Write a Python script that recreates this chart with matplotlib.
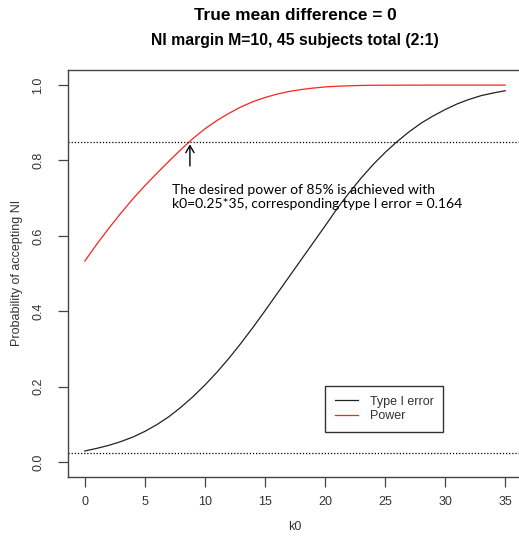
import numpy as np
import matplotlib
matplotlib.use("Agg")
import matplotlib.pyplot as plt

# values
k0 = np.arange(0, 36)
type1_error = [0.029, 0.036, 0.044, 0.054, 0.066, 0.081, 0.099, 0.120, 0.145, 0.173,
               0.204, 0.238, 0.275, 0.315, 0.357, 0.401, 0.446, 0.491, 0.536, 0.581,
               0.626, 0.672, 0.714, 0.753, 0.789, 0.821, 0.850, 0.876, 0.899, 0.918,
               0.935, 0.950, 0.962, 0.972, 0.979, 0.985]
power = [0.533, 0.578, 0.620, 0.660, 0.698, 0.733, 0.766, 0.798, 0.829, 0.858,
         0.884, 0.906, 0.925, 0.942, 0.956, 0.967, 0.976, 0.983, 0.988, 0.992,
         0.995, 0.997, 0.998, 0.999, 0.9995, 0.9996, 0.9997, 0.9998, 0.9998, 0.9999,
         0.9999, 0.9999, 0.9999, 0.9999, 0.9999, 0.9999]
h_lines = [0.85, 0.025]
k0_sel = 0.25 * 35

title = 'True mean difference = 0'
subtitle = 'NI margin M=10, 45 subjects total (2:1)'
note = 'The desired power of 85% is achieved with\nk0=0.25*35, corresponding type I error = 0.164'

plt.rcParams['font.family'] = ['Liberation Sans', 'DejaVu Sans']

fig = plt.figure(figsize=(5.19, 5.39), dpi=100)
ax = fig.add_axes([68 / 519, 1 - 477 / 539, 454 / 519, 407 / 539])

ax.plot(k0, type1_error, color='#222222', lw=0.9, label='Type I error')
ax.plot(k0, power, color='#ff2020', lw=0.9, label='Power')
for h in h_lines:
    ax.axhline(h, color='black', lw=0.9, ls=(0, (1, 1.5)))

ax.annotate('', xy=(k0_sel, 0.85), xytext=(k0_sel, 0.778),
            arrowprops=dict(arrowstyle='->,head_length=0.5,head_width=0.3', color='black', lw=1))
ax.text(7.3, 0.703, note, family=['Lato', 'DejaVu Sans'], fontsize=10, color='black',
        ha='left', va='center', linespacing=1.25)

ax.set_xlim(-1.4, 36.4)
ax.set_ylim(-0.04, 1.04)
ax.set_xticks(range(0, 36, 5))
ax.set_yticks([0, 0.2, 0.4, 0.6, 0.8, 1.0])
ax.set_yticklabels(['0.0', '0.2', '0.4', '0.6', '0.8', '1.0'], rotation=90, va='center')
ax.tick_params(axis='both', direction='out', length=7, width=0.9, color='#444444',
               labelsize=9, labelcolor='#333333')
ax.tick_params(axis='x', pad=7)
ax.tick_params(axis='y', pad=10)
for s in ax.spines.values():
    s.set_color('#444444')
    s.set_linewidth(1)

leg = ax.legend(loc='upper left', bbox_to_anchor=(0.565, 0.224), fontsize=9,
                frameon=True, fancybox=False, edgecolor='#333333', framealpha=1,
                borderaxespad=0, borderpad=0.8, handlelength=1.9, handletextpad=0.9,
                labelspacing=0.2)
leg.get_frame().set_linewidth(1)
for t in leg.get_texts():
    t.set_color('#333333')

fig.text(295 / 519, 1 - 15 / 539, title, ha='center', va='center', fontsize=12.4, fontweight='bold')
fig.text(295 / 519, 1 - 40 / 539, subtitle, ha='center', va='center', fontsize=11.3, fontweight='bold')
fig.text(295 / 519, 1 - 527 / 539, 'k0', ha='center', va='center', fontsize=9, color='#333333')
fig.text(17 / 519, 1 - 273 / 539, 'Probability of accepting NI', ha='center', va='center',
         rotation=90, fontsize=9, color='#333333')

fig.savefig('out.png', dpi=100)
